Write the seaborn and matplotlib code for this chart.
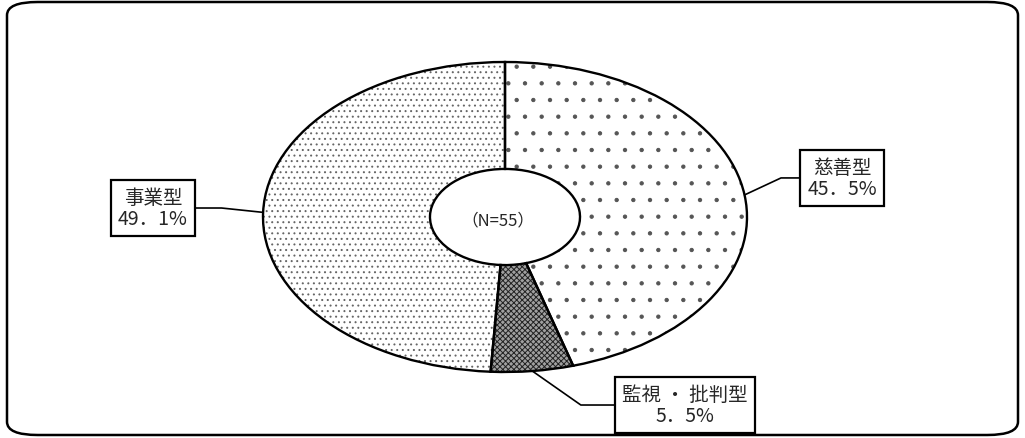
import numpy as np
import matplotlib
matplotlib.use("Agg")
import matplotlib.pyplot as plt
from matplotlib.patches import FancyBboxPatch
import seaborn as sns

# data
labels = ["慈善型", "監視 ・ 批判型", "事業型"]
shares = [45.5, 5.5, 49.1]
pct_text = ["45．5%", "5．5%", "49．1%"]
hatches = [".", "xxxxxx", "..."]
face_colors = ["white", "#a0a0a0", "white"]
hatch_colors = ["#555555", "#222222", "#666666"]
n_text = "（N=55）"

sns.set_theme(style="white")
plt.rcParams["font.family"] = ["Noto Sans CJK JP", "DejaVu Sans"]
plt.rcParams["hatch.linewidth"] = 0.7

W, H = 1025, 439
fig = plt.figure(figsize=(W / 100, H / 100), dpi=100)
fig.patch.set_facecolor("white")

# rounded frame around the whole chart
frame = FancyBboxPatch((7 / W, 3 / H), 1011 / W, 433 / H,
                       boxstyle="round,pad=0,rounding_size=0.03",
                       transform=fig.transFigure, fill=False,
                       edgecolor="black", linewidth=1.8)
fig.patches.append(frame)

# axes fills the figure, limits chosen so the unit circle becomes an ellipse
cx, cy, rx, ry = 505, 218, 242, 155
ax = fig.add_axes([0, 0, 1, 1])

# fill + hatch layer (hatch colour follows the edge colour, edge not drawn)
fills, _ = ax.pie(shares, startangle=90, counterclock=False,
                  colors=face_colors,
                  wedgeprops=dict(width=0.69, linewidth=0))
for w, h, hc in zip(fills, hatches, hatch_colors):
    w.set_hatch(h)
    w.set_edgecolor(hc)

# outline layer
wedges, _ = ax.pie(shares, startangle=90, counterclock=False,
                   wedgeprops=dict(width=0.69, fill=False,
                                   edgecolor="black", linewidth=1.7))
ax.set_aspect("auto")
ax.set_xlim(-cx / rx, (W - cx) / rx)
ax.set_ylim((cy - H) / ry, cy / ry)
ax.axis("off")

ax.text(-0.03, -0.02, n_text, ha="center", va="center", fontsize=12)

# label boxes with leader lines
text_pos = [(1.393, 0.252), (0.744, -1.213), (-1.455, 0.058)]
leader_angle = [25, -35, 174]
for w, lab, pct, pos, ang in zip(wedges, labels, pct_text, text_pos, leader_angle):
    mid = np.deg2rad((w.theta1 + w.theta2) / 2)
    ax.annotate(f"{lab}\n{pct}", xy=(np.cos(mid), np.sin(mid)), xytext=pos,
                ha="center", va="center", fontsize=14,
                linespacing=1.05,
                bbox=dict(boxstyle="square,pad=0.35", fc="white", ec="black", lw=1.6),
                arrowprops=dict(arrowstyle="-", color="black", lw=1.2,
                                shrinkA=0, shrinkB=0,
                                connectionstyle=f"angle,angleA=0,angleB={ang},rad=0"))

fig.savefig("out.png", dpi=100)
